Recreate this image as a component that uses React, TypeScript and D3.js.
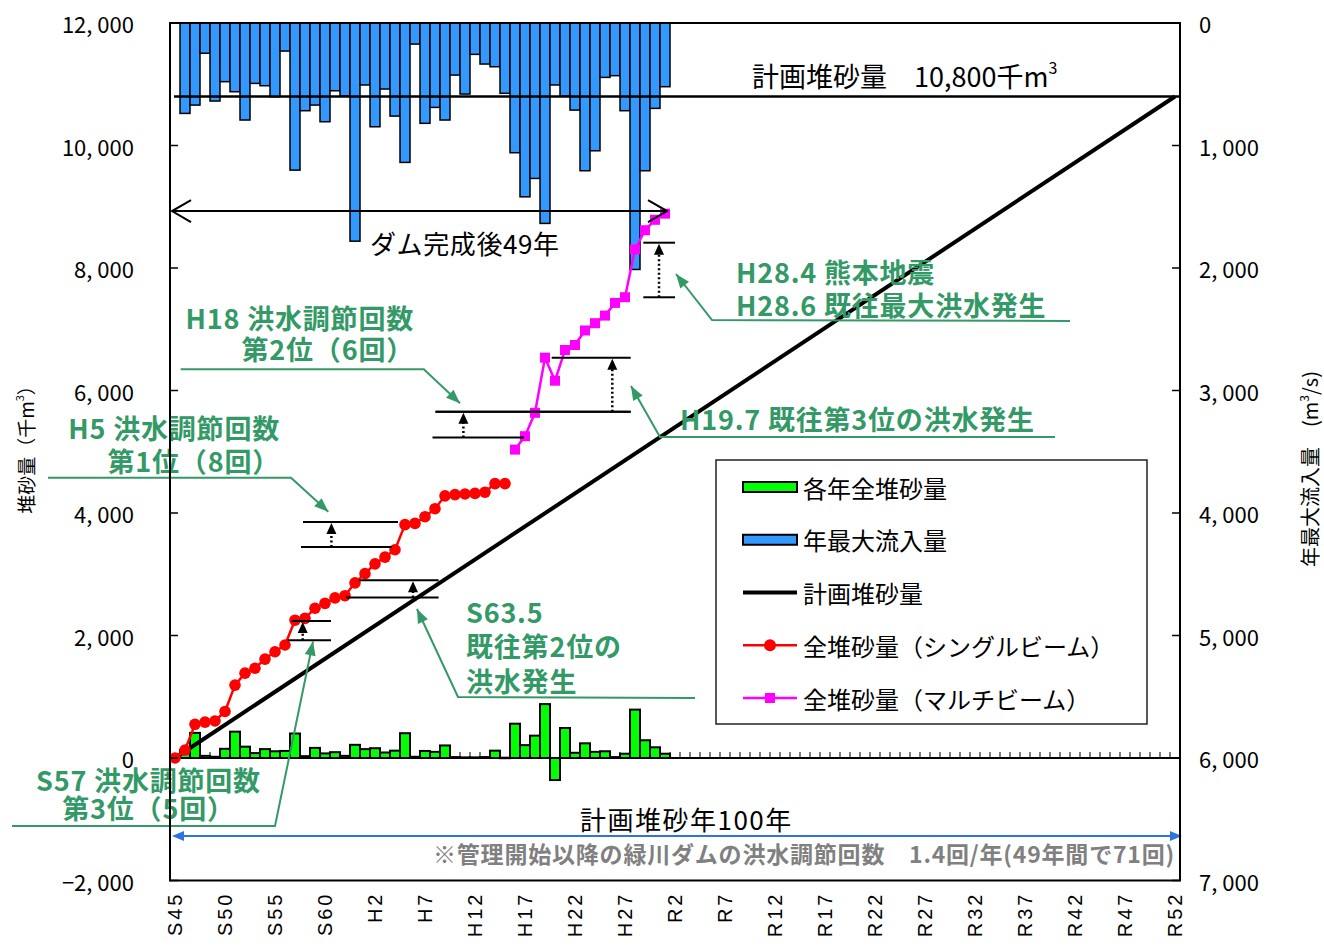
import React from "react";
import * as d3 from "d3";

// ---------- data ----------
const categoryStart = 1970;
const categoryEnd = 2070;

const tickYears = [1970, 1975, 1980, 1985, 1990, 1995, 2000, 2005, 2010, 2015, 2020, 2025, 2030, 2035, 2040, 2045, 2050, 2055, 2060, 2065, 2070];
const tickLabels = ["S45", "S50", "S55", "S60", "H2", "H7", "H12", "H17", "H22", "H27", "R2", "R7", "R12", "R17", "R22", "R27", "R32", "R37", "R42", "R47", "R52"];

const leftTicks = [12000, 10000, 8000, 6000, 4000, 2000, 0, -2000];
const leftTickLabels = ["12, 000", "10, 000", "8, 000", "6, 000", "4, 000", "2, 000", "0", "−2, 000"];
const rightTicks = [0, 1000, 2000, 3000, 4000, 5000, 6000, 7000];
const rightTickLabels = ["0", "1, 000", "2, 000", "3, 000", "4, 000", "5, 000", "6, 000", "7, 000"];

// 全堆砂量（シングルビーム） 1970–2003
const singleBeamYears = [1970, 1971, 1972, 1973, 1974, 1975, 1976, 1977, 1978, 1979, 1980, 1981, 1982, 1983, 1984, 1985, 1986, 1987, 1988, 1989, 1990, 1991, 1992, 1993, 1994, 1995, 1996, 1997, 1998, 1999, 2000, 2001, 2002, 2003];
const singleBeamValues = [0, 130, 550, 585, 605, 760, 1190, 1385, 1465, 1615, 1735, 1845, 2250, 2280, 2445, 2525, 2615, 2650, 2860, 3010, 3170, 3280, 3400, 3810, 3830, 3940, 4070, 4280, 4300, 4310, 4320, 4340, 4480, 4480];

// 全堆砂量（マルチビーム） 2004–2019
const multiBeamYears = [2004, 2005, 2006, 2007, 2008, 2009, 2010, 2011, 2012, 2013, 2014, 2015, 2016, 2017, 2018, 2019];
const multiBeamValues = [5035, 5254, 5636, 6536, 6160, 6661, 6743, 6980, 7099, 7223, 7430, 7523, 8305, 8617, 8787, 8887];

// 各年全堆砂量 / 年最大流入量 1971–2019
const annualYears = [1971, 1972, 1973, 1974, 1975, 1976, 1977, 1978, 1979, 1980, 1981, 1982, 1983, 1984, 1985, 1986, 1987, 1988, 1989, 1990, 1991, 1992, 1993, 1994, 1995, 1996, 1997, 1998, 1999, 2000, 2001, 2002, 2003, 2004, 2005, 2006, 2007, 2008, 2009, 2010, 2011, 2012, 2013, 2014, 2015, 2016, 2017, 2018, 2019];
const annualSediment = [130, 410, 35, 20, 150, 430, 185, 80, 145, 110, 115, 400, 30, 165, 75, 95, 35, 215, 145, 160, 90, 120, 405, 20, 115, 100, 205, 15, 10, 10, 15, 120, 5, 560, 210, 365, 880, -360, 490, 85, 240, 100, 110, 15, 70, 790, 290, 175, 70];
const maxInflow = [738, 670, 247, 637, 479, 561, 792, 493, 512, 602, 229, 1201, 716, 670, 806, 553, 594, 1781, 506, 847, 539, 760, 1138, 172, 819, 689, 792, 425, 580, 256, 335, 357, 574, 1059, 1419, 1269, 1636, 506, 596, 711, 1206, 1043, 444, 430, 716, 2012, 1206, 697, 520];

// 計画堆砂量
const plannedYears = [1970, 2070];
const plannedValues = [0, 10800];
const plannedCapacity = 10800;

// annotations, in data units (year, 千m3)
const brackets = [
  { top: 2237, bottom: 1922, topFrom: 1981.67, topTo: 1985.6, botFrom: 1981.27, botTo: 1985.6, arrowYear: 1982.77 },
  { top: 2901, bottom: 2620, topFrom: 1988.4, topTo: 1996.36, botFrom: 1987.1, botTo: 1996.36, arrowYear: 1993.8 },
  { top: 3853, bottom: 3445, topFrom: 1982.8, topTo: 1992.3, botFrom: 1982.6, botTo: 1991.7, arrowYear: 1985.64 },
  { top: 5654, bottom: 5233, topFrom: 1996.05, topTo: 2015.57, botFrom: 1995.75, botTo: 2004.9, arrowYear: 1998.84 },
  { top: 6536, bottom: 5654, topFrom: 2007.67, topTo: 2015.57, botFrom: 1996.05, botTo: 2015.57, arrowYear: 2013.73 },
  { top: 8413, bottom: 7522, topFrom: 2016.83, topTo: 2020.0, botFrom: 2016.83, botTo: 2020.0, arrowYear: 2018.4 },
];

const notes = [
  { lines: ["H18 洪水調節回数", "第2位（6回）"], year: 1993.9, values: [7184, 6678], anchor: "end", leader: [[1970.57, 6346], [1994.88, 6346], [1998.5, 5791]] },
  { lines: ["H5 洪水調節回数", "第1位（8回）"], year: 1980.5, values: [5388, 4865], anchor: "end", leader: [[1957.3, 4576], [1981.6, 4576], [1985.33, 4021]] },
  { lines: ["S57 洪水調節回数", "第3位（5回）"], year: 1967.35, values: [-359, -816], anchor: "middle", leader: [[1953.7, -1110], [1980.0, -1110], [1983.8, 1902]] },
  { lines: ["S63.5", "既往第2位の", "洪水発生"], year: 1999.1, values: [2384, 1829, 1273], anchor: "start", leader: [[2022.0, 980], [1998.3, 996], [1994.2, 2433]] },
  { lines: ["H19.7 既往第3位の洪水発生"], year: 2020.5, values: [5551], anchor: "start", leader: [[2058.0, 5241], [2018.5, 5241], [2015.6, 6073]] },
  { lines: ["H28.4 熊本地震", "H28.6 既往最大洪水発生"], year: 2026.1, values: [7951, 7412], anchor: "start", leader: [[2059.5, 7135], [2023.7, 7151], [2020.1, 7902]] },
];

const damPeriod = { from: 1969.7, to: 2019.2, value: 8930, label: "ダム完成後49年", labelYear: 1989.5, labelValue: 8424 };
const planPeriod = { from: 1969.7, to: 2070.7, value: -1275, label: "計画堆砂年100年", labelYear: 2010.5, labelValue: -980 };
const capLabel = { text: "計画堆砂量\u300010,800千m", year: 2027.7, value: 11135 };
const footNote = { text: "※管理開始以降の緑川ダムの洪水調節回数　1.4回/年(49年間で71回)", year: 2070, value: -1551 };

const legendItems = ["各年全堆砂量", "年最大流入量", "計画堆砂量", "全堆砂量（シングルビーム）", "全堆砂量（マルチビーム）"];

// ---------- chart ----------
const JP = "'Noto Sans CJK JP', 'Noto Sans', sans-serif";
const GREEN_TXT = "#339966";

function triangle(fx: number, fy: number, tx: number, ty: number, len: number, hw: number) {
  const dx = tx - fx, dy = ty - fy;
  const d = Math.sqrt(dx * dx + dy * dy) || 1;
  const ux = dx / d, uy = dy / d;
  const bx = tx - ux * len, by = ty - uy * len;
  const px = -uy, py = ux;
  return `M${tx},${ty}L${bx + px * hw},${by + py * hw}L${bx - px * hw},${by - py * hw}Z`;
}

export default function App() {
  const W = 1324, H = 947;
  const plotLeft = 170, plotRight = 1180, plotTop = 23, plotBottom = 880.5;

  const x = d3.scaleBand<number>().domain(d3.range(categoryStart, categoryEnd + 1)).range([plotLeft, plotRight]).padding(0);
  const bw = x.bandwidth();
  const xc = (yr: number) => (x(yr) as number) + bw / 2;
  const xv = d3.scaleLinear().domain([categoryStart, categoryEnd]).range([xc(categoryStart), xc(categoryEnd)]);
  const yL = d3.scaleLinear().domain([-2000, 12000]).range([plotBottom, plotTop]);
  const yR = d3.scaleLinear().domain([0, 7000]).range([plotTop, plotBottom]);

  const catLine = d3.line<[number, number]>().x((d) => xc(d[0])).y((d) => yL(d[1]));
  const valLine = d3.line<number[]>().x((d) => xv(d[0])).y((d) => yL(d[1]));

  const single = singleBeamYears.map((yr, i) => [yr, singleBeamValues[i]] as [number, number]);
  const multi = multiBeamYears.map((yr, i) => [yr, multiBeamValues[i]] as [number, number]);
  const planned = plannedYears.map((yr, i) => [yr, plannedValues[i]] as [number, number]);

  const y0 = yL(0);
  const boundaries = d3.range(categoryStart, categoryEnd + 1).map((yr) => x(yr) as number);

  const legendX = 716, legendY = 460, legendW = 431, legendH = 264;
  const legendRowY = (i: number) => 487 + i * 52.75;

  return (
    <svg width={W} height={H} style={{ position: "absolute", left: 0, top: 0, background: "#fff" }} fontFamily={JP}>
      <rect x={0} y={0} width={W} height={H} fill="#fff" />

      {/* blue bars: 年最大流入量 (right axis, hanging from top) */}
      {annualYears.map((yr, i) => (
        <rect key={"b" + yr} x={x(yr)} y={yR(0)} width={bw} height={yR(maxInflow[i]) - yR(0)} fill="#3399ff" stroke="#000" strokeWidth={1.5} />
      ))}

      {/* planned capacity horizontal line */}
      <line x1={xc(categoryStart) - 1} x2={plotRight} y1={yL(plannedCapacity)} y2={yL(plannedCapacity)} stroke="#000" strokeWidth={2.5} />

      {/* category ticks on zero line */}
      {boundaries.map((bx, i) => (
        <line key={"t" + i} x1={bx} x2={bx} y1={y0 - 6} y2={y0} stroke="#000" strokeWidth={1} />
      ))}

      {/* green bars */}
      {annualYears.map((yr, i) => {
        const v = annualSediment[i];
        const ya = yL(Math.max(v, 0));
        const yb = yL(Math.min(v, 0));
        return <rect key={"g" + yr} x={x(yr)} y={ya} width={bw} height={Math.max(yb - ya, 0.5)} fill="#00ff00" stroke="#000" strokeWidth={2} />;
      })}

      {/* zero axis line */}
      <line x1={plotLeft} x2={plotRight} y1={y0} y2={y0} stroke="#000" strokeWidth={2} />

      {/* planned diagonal */}
      <path d={catLine(planned) || ""} fill="none" stroke="#000" strokeWidth={4} />

      {/* single beam */}
      <path d={catLine(single) || ""} fill="none" stroke="#ff0000" strokeWidth={2.5} />
      {single.map((d) => (
        <circle key={"r" + d[0]} cx={xc(d[0])} cy={yL(d[1])} r={5.8} fill="#ff0000" />
      ))}

      {/* multi beam */}
      <path d={catLine(multi) || ""} fill="none" stroke="#ff00ff" strokeWidth={2.5} />
      {multi.map((d) => (
        <rect key={"m" + d[0]} x={xc(d[0]) - 5} y={yL(d[1]) - 5} width={10} height={10} fill="#ff00ff" />
      ))}

      {/* brackets */}
      {brackets.map((b, i) => {
        const ax = xv(b.arrowYear);
        const yt = yL(b.top), yb = yL(b.bottom);
        return (
          <g key={"br" + i}>
            <line x1={xv(b.topFrom)} x2={xv(b.topTo)} y1={yt} y2={yt} stroke="#000" strokeWidth={2} />
            <line x1={xv(b.botFrom)} x2={xv(b.botTo)} y1={yb} y2={yb} stroke="#000" strokeWidth={2} />
            <line x1={ax} x2={ax} y1={yb} y2={yt + 10} stroke="#000" strokeWidth={2.5} strokeDasharray="2,2.5" />
            <path d={triangle(ax, yb, ax, yt + 1, 11, 5)} fill="#000" />
          </g>
        );
      })}

      {/* dam period arrow */}
      {(() => {
        const yy = yL(damPeriod.value);
        const a = xv(damPeriod.from), b = xv(damPeriod.to);
        return (
          <g>
            <line x1={a} x2={b} y1={yy} y2={yy} stroke="#000" strokeWidth={2} />
            <path d={`M${a + 19},${yy - 11}L${a},${yy}L${a + 19},${yy + 11}`} fill="none" stroke="#000" strokeWidth={2} />
            <path d={`M${b - 19},${yy - 11}L${b},${yy}L${b - 19},${yy + 11}`} fill="none" stroke="#000" strokeWidth={2} />
            <text x={xv(damPeriod.labelYear)} y={yL(damPeriod.labelValue)} fontSize={26} letterSpacing={0.6} dominantBaseline="central" fill="#000">{damPeriod.label}</text>
          </g>
        );
      })()}

      {/* plan period arrow */}
      {(() => {
        const yy = yL(planPeriod.value);
        const a = xv(planPeriod.from), b = xv(planPeriod.to);
        const col = "#2f73e0";
        return (
          <g>
            <line x1={a + 8} x2={b - 8} y1={yy} y2={yy} stroke={col} strokeWidth={2} />
            <path d={triangle(b - 20, yy, a, yy, 12, 5)} fill={col} />
            <path d={triangle(a + 20, yy, b, yy, 12, 5)} fill={col} />
            <text x={xv(planPeriod.labelYear)} y={yL(planPeriod.labelValue)} fontSize={26} letterSpacing={1.5} dominantBaseline="central" fill="#000">{planPeriod.label}</text>
          </g>
        );
      })()}

      <text x={xv(capLabel.year)} y={yL(capLabel.value)} fontSize={27} dominantBaseline="central" fill="#000">
        {capLabel.text}
        <tspan dy={-9} fontSize={16}>3</tspan>
      </text>

      <text x={xv(footNote.year)} y={yL(footNote.value)} fontSize={23} letterSpacing={0.8} fontWeight="bold" textAnchor="end" dominantBaseline="central" fill="#808080">{footNote.text}</text>

      {/* green notes */}
      {notes.map((n, i) => {
        const pts = n.leader;
        const last = pts[pts.length - 1], prev = pts[pts.length - 2];
        return (
          <g key={"n" + i}>
            <path d={valLine(pts) || ""} fill="none" stroke={GREEN_TXT} strokeWidth={2} />
            <path d={triangle(xv(prev[0]), yL(prev[1]), xv(last[0]), yL(last[1]), 14, 5.5)} fill={GREEN_TXT} />
            {n.lines.map((t, j) => (
              <text key={j} x={xv(n.year)} y={yL(n.values[j])} fontSize={27} letterSpacing={0.8} fontWeight="bold" fill={GREEN_TXT} textAnchor={n.anchor as any} dominantBaseline="central">{t}</text>
            ))}
          </g>
        );
      })}

      {/* plot border */}
      <rect x={plotLeft} y={plotTop} width={plotRight - plotLeft} height={plotBottom - plotTop} fill="none" stroke="#000" strokeWidth={2} />

      {/* left axis */}
      {leftTicks.map((v, i) => (
        <g key={"l" + v}>
          <line x1={plotLeft} x2={plotLeft + 8} y1={yL(v)} y2={yL(v)} stroke="#000" strokeWidth={1.5} />
          <text x={134} y={yL(v)} fontSize={22} textAnchor="end" dominantBaseline="central" fill="#000">{leftTickLabels[i]}</text>
        </g>
      ))}
      {/* right axis */}
      {rightTicks.map((v, i) => (
        <g key={"rt" + v}>
          <line x1={plotRight - 8} x2={plotRight} y1={yR(v)} y2={yR(v)} stroke="#000" strokeWidth={1.5} />
          <text x={1199} y={yR(v)} fontSize={22} textAnchor="start" dominantBaseline="central" fill="#000">{rightTickLabels[i]}</text>
        </g>
      ))}
      {/* x labels */}
      {tickYears.map((yr, i) => (
        <text key={"x" + yr} transform={`translate(${xc(yr)},${plotBottom + 11}) rotate(-90)`} fontFamily="'Liberation Sans', Arial, sans-serif" fontSize={20} letterSpacing={3} textAnchor="end" dominantBaseline="central" fill="#000">{tickLabels[i]}</text>
      ))}

      {/* axis titles */}
      <text transform={`translate(25,445) rotate(-90)`} fontSize={19} textAnchor="middle" dominantBaseline="central" fill="#000">
        堆砂量（千m<tspan dy={-6} fontSize={11}>3</tspan><tspan dy={6}>）</tspan>
      </text>
      <text transform={`translate(1309,469) rotate(-90)`} fontSize={20} textAnchor="middle" dominantBaseline="central" fill="#000">
        年最大流入量　(m<tspan dy={-6} fontSize={12}>3</tspan><tspan dy={6}>/s)</tspan>
      </text>

      {/* legend */}
      <rect x={legendX} y={legendY} width={legendW} height={legendH} fill="#fff" stroke="#222" strokeWidth={1.5} />
      <rect x={743} y={legendRowY(0) - 5} width={54} height={10} fill="#00ff00" stroke="#000" strokeWidth={2} />
      <rect x={743} y={legendRowY(1) - 5} width={54} height={10} fill="#3399ff" stroke="#000" strokeWidth={2} />
      <line x1={743} x2={797} y1={legendRowY(2)} y2={legendRowY(2)} stroke="#000" strokeWidth={4} />
      <line x1={743} x2={797} y1={legendRowY(3)} y2={legendRowY(3)} stroke="#ff0000" strokeWidth={2.5} />
      <circle cx={770} cy={legendRowY(3)} r={6} fill="#ff0000" />
      <line x1={743} x2={797} y1={legendRowY(4)} y2={legendRowY(4)} stroke="#ff00ff" strokeWidth={2.5} />
      <rect x={765} y={legendRowY(4) - 5} width={10} height={10} fill="#ff00ff" />
      {legendItems.map((t, i) => (
        <text key={"lg" + i} x={803} y={legendRowY(i)} fontSize={24} dominantBaseline="central" fill="#000">{t}</text>
      ))}
    </svg>
  );
}
